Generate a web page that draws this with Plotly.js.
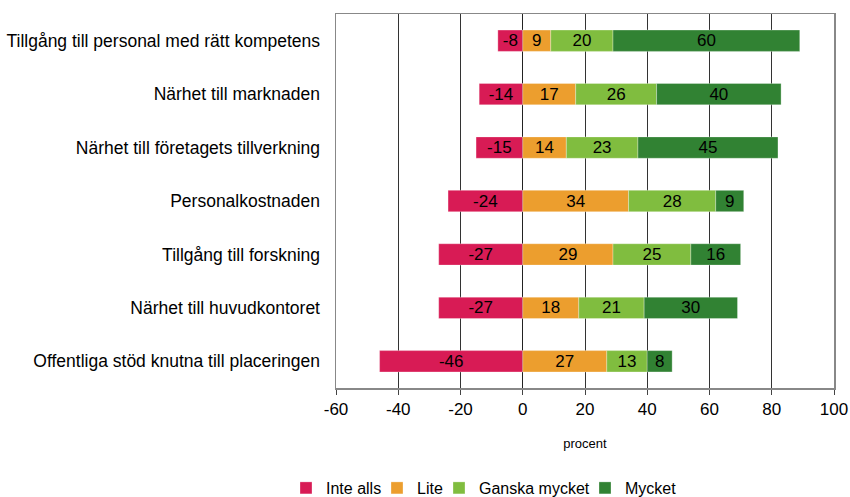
<!DOCTYPE html>
<html>
<head>
<meta charset="utf-8">
<script src="https://cdn.plot.ly/plotly-3.0.1.min.js"></script>
<style>html,body{margin:0;padding:0;background:#fff;}#chart{width:850px;height:497px;}</style>
</head>
<body>
<div id="chart"></div>
<script>
const categories = [
  "Tillgång till personal med rätt kompetens",
  "Närhet till marknaden",
  "Närhet till företagets tillverkning",
  "Personalkostnaden",
  "Tillgång till forskning",
  "Närhet till huvudkontoret",
  "Offentliga stöd knutna till placeringen"
];
const inteAlls = [-8, -14, -15, -24, -27, -27, -46];
const lite = [9, 17, 14, 34, 29, 18, 27];
const ganskaMycket = [20, 26, 23, 28, 25, 21, 13];
const mycket = [60, 40, 45, 9, 16, 30, 8];
const seriesNames = ["Inte alls", "Lite", "Ganska mycket", "Mycket"];
const seriesColors = ["#D81B55", "#EC9E2E", "#80BD3F", "#318233"];
const xTicks = [-60, -40, -20, 0, 20, 40, 60, 80, 100];

const FONT = "Liberation Sans, Arial, sans-serif";
const legendIds = ["legend", "legend2", "legend3", "legend4"];
const legendX = [286, 377, 439, 585];

const allSeries = [inteAlls, lite, ganskaMycket, mycket];
const traces = allSeries.map((vals, i) => ({
  type: "bar",
  orientation: "h",
  name: seriesNames[i],
  legend: legendIds[i],
  y: categories,
  x: vals,
  text: vals.map(v => String(v)),
  textposition: "inside",
  insidetextanchor: "middle",
  textangle: 0,
  constraintext: "none",
  textfont: {family: FONT, size: 17, color: "#000"},
  marker: {color: seriesColors[i], line: {color: "rgba(255,255,255,0.6)", width: 0.5}},
  hoverinfo: "x+y+name"
}));

const boundaries = [];
for (let k = -0.5; k <= categories.length - 0.5; k += 1) boundaries.push(k);

const layout = {
  width: 850,
  height: 497,
  margin: {l: 336, r: 16, t: 14, b: 109},
  paper_bgcolor: "#fff",
  plot_bgcolor: "#fff",
  barmode: "relative",
  bargap: 0.6,
  font: {family: FONT, color: "#000"},
  xaxis: {
    range: [-60, 100],
    tickvals: xTicks,
    ticktext: xTicks.map(String),
    showgrid: true,
    gridcolor: "#333",
    gridwidth: 1,
    zeroline: true,
    zerolinecolor: "#222",
    zerolinewidth: 1,
    showline: true,
    linecolor: "#888",
    linewidth: 1.5,
    mirror: true,
    ticks: "outside",
    ticklen: 5,
    tickcolor: "#444",
    tickfont: {size: 17, color: "#000"},
    title: {text: "procent", font: {size: 13, color: "#000"}, standoff: 21}
  },
  yaxis: {
    autorange: "reversed",
    showgrid: false,
    zeroline: false,
    showline: true,
    linecolor: "#888",
    linewidth: 1.5,
    mirror: true,
    ticks: "",
    ticklabelstandoff: 11,
    tickfont: {size: 17.5, color: "#000"}
  },
  yaxis2: {
    overlaying: "y",
    anchor: "free",
    position: 0.375,
    side: "left",
    range: [categories.length - 0.5, -0.5],
    tickmode: "array",
    tickvals: boundaries,
    showticklabels: false,
    ticks: "outside",
    ticklen: 5,
    tickcolor: "#222",
    showgrid: false,
    zeroline: false,
    showline: true,
    linecolor: "#222",
    linewidth: 1
  },
  showlegend: true
};

legendIds.forEach((id, i) => {
  layout[id] = {
    orientation: "h",
    xref: "container",
    yref: "container",
    x: legendX[i] / 850,
    xanchor: "left",
    y: 9 / 497,
    yanchor: "middle",
    font: {size: 16, color: "#000"},
    itemwidth: 30,
    bgcolor: "rgba(0,0,0,0)"
  };
});

Plotly.newPlot("chart", traces, layout, {displayModeBar: false, staticPlot: true});
</script>
</body>
</html>
